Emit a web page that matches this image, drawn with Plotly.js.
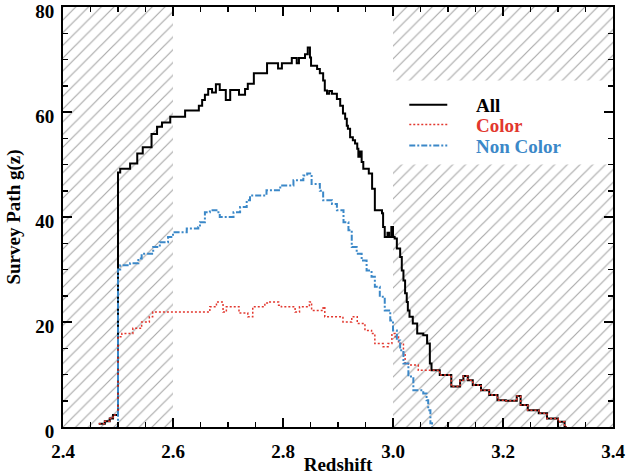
<!DOCTYPE html>
<html>
<head>
<meta charset="utf-8">
<script src="https://cdn.plot.ly/plotly-3.0.1.min.js"></script>
<style>html,body{margin:0;padding:0;background:#fff;}#chart{width:626px;height:475px;}</style>
</head>
<body>
<div id="chart"></div>
<script>
// ---- data ----
const allX = [2.465, 2.476, 2.485, 2.491, 2.500, 2.504, 2.522, 2.535, 2.545, 2.561, 2.571, 2.580, 2.595, 2.622, 2.647, 2.653, 2.658, 2.664, 2.671, 2.678, 2.685, 2.696, 2.704, 2.720, 2.731, 2.736, 2.747, 2.771, 2.791, 2.798, 2.816, 2.825, 2.829, 2.840, 2.845, 2.849, 2.851, 2.862, 2.867, 2.873, 2.876, 2.880, 2.884, 2.889, 2.898, 2.904, 2.909, 2.913, 2.916, 2.918, 2.922, 2.927, 2.931, 2.935, 2.937, 2.940, 2.943, 2.946, 2.956, 2.962, 2.967, 2.980, 2.982, 2.985, 2.990, 2.993, 2.997, 3.000, 3.003, 3.007, 3.013, 3.016, 3.019, 3.022, 3.025, 3.027, 3.030, 3.036, 3.044, 3.055, 3.062, 3.067, 3.070, 3.085, 3.106, 3.122, 3.128, 3.136, 3.145, 3.160, 3.175, 3.190, 3.205, 3.225, 3.232, 3.245, 3.265, 3.280, 3.300, 3.312, 3.316];
const allY = [0.6, 1.1, 1.6, 2.3, 48.5, 49.2, 50.2, 52.1, 53.3, 55.8, 57.2, 58.0, 59.1, 60.3, 61.2, 62.3, 63.3, 64.4, 63.7, 65.3, 64.2, 62.3, 64.2, 63.3, 64.4, 65.4, 67.4, 69.3, 68.3, 69.3, 70.3, 69.3, 70.3, 71.0, 72.3, 70.4, 68.8, 68.2, 67.4, 66.0, 64.1, 63.5, 64.0, 63.5, 62.5, 61.2, 59.7, 58.7, 57.4, 56.8, 55.2, 54.6, 54.0, 53.0, 51.5, 52.5, 50.5, 49.2, 48.3, 45.4, 41.3, 40.7, 38.1, 36.2, 37.0, 36.2, 38.1, 36.2, 35.9, 34.0, 32.4, 29.8, 27.9, 25.5, 23.8, 22.2, 21.0, 19.7, 17.8, 17.5, 15.9, 12.1, 10.8, 9.9, 7.7, 8.9, 9.7, 8.9, 8.0, 7.0, 6.1, 5.1, 5.0, 5.9, 4.2, 3.2, 2.6, 1.6, 1.0, 0.0, 0.0];

const colorX = [2.465, 2.476, 2.485, 2.491, 2.500, 2.507, 2.527, 2.543, 2.557, 2.563, 2.667, 2.679, 2.691, 2.697, 2.720, 2.736, 2.745, 2.767, 2.776, 2.792, 2.797, 2.822, 2.830, 2.848, 2.852, 2.873, 2.876, 2.909, 2.925, 2.935, 2.949, 2.961, 2.967, 2.982, 2.991, 2.998, 3.004, 3.010, 3.019, 3.022, 3.028, 3.046, 3.085, 3.106, 3.122, 3.128, 3.136, 3.145, 3.160, 3.175, 3.190, 3.205, 3.225, 3.232, 3.245, 3.265, 3.280, 3.300, 3.312, 3.316];
const colorY = [0.6, 1.1, 1.6, 2.3, 17.2, 17.8, 18.8, 20.0, 21.0, 21.9, 22.9, 23.8, 21.9, 22.9, 21.7, 21.0, 22.9, 23.6, 23.8, 23.2, 22.9, 21.9, 22.9, 23.8, 22.2, 22.9, 21.0, 20.0, 21.0, 19.7, 18.4, 17.8, 15.9, 15.3, 15.9, 17.8, 17.2, 15.9, 14.0, 12.1, 11.8, 10.8, 9.9, 7.7, 8.9, 9.7, 8.9, 8.0, 7.0, 6.1, 5.1, 5.0, 5.9, 4.2, 3.2, 2.6, 1.6, 1.0, 0.0, 0.0];

const nonColorX = [2.497, 2.500, 2.504, 2.522, 2.537, 2.543, 2.564, 2.576, 2.591, 2.600, 2.625, 2.646, 2.649, 2.658, 2.667, 2.679, 2.685, 2.710, 2.722, 2.734, 2.740, 2.770, 2.795, 2.819, 2.837, 2.844, 2.852, 2.867, 2.873, 2.889, 2.898, 2.910, 2.919, 2.925, 2.934, 2.943, 2.952, 2.961, 2.967, 2.976, 2.985, 2.995, 3.000, 3.007, 3.013, 3.019, 3.028, 3.037, 3.055, 3.061, 3.064, 3.068, 3.071];
const nonColorY = [0.0, 30.0, 30.8, 31.2, 32.1, 33.0, 34.3, 35.2, 36.2, 37.1, 37.8, 38.1, 39.0, 40.9, 41.3, 40.9, 40.0, 40.9, 41.9, 43.2, 44.1, 45.1, 46.0, 47.0, 47.9, 48.3, 46.3, 45.0, 43.2, 42.5, 41.3, 39.0, 37.5, 34.3, 33.0, 31.7, 29.8, 28.6, 26.7, 24.8, 22.2, 20.3, 18.4, 16.5, 14.6, 12.1, 9.6, 7.0, 6.4, 5.1, 3.2, 0.7, 0.0];

// excluded (hatched) redshift ranges and the legend gap in the right one
const hatchLeftX = [2.4, 2.6];
const hatchRightX = [3.0, 3.4];
const legendGapY = [50, 66];
const yRange = [0, 80];
const xRange = [2.4, 3.4];
const xTicks = [2.4, 2.6, 2.8, 3.0, 3.2, 3.4];
const yTicks = [0, 20, 40, 60, 80];
const seriesNames = ['All', 'Color', 'Non Color'];

const serif = 'Liberation Serif, Times New Roman, serif';
const RED = '#e2372e';
const BLUE = '#3b88c8';

function rect(x, y) {
  return { x: [x[0], x[1], x[1], x[0], x[0]], y: [y[0], y[0], y[1], y[1], y[0]] };
}
function hatchTrace(r) {
  return {
    type: 'scatter', mode: 'lines', x: r.x, y: r.y, fill: 'toself',
    line: { width: 0, color: 'rgba(0,0,0,0)' },
    fillcolor: 'rgba(0,0,0,0)',
    fillpattern: { shape: '/', fgcolor: '#a9a9a9', bgcolor: 'rgba(255,255,255,0)', size: 9, solidity: 0.13 },
    hoverinfo: 'skip', showlegend: false
  };
}
const hL = rect(hatchLeftX, yRange);
const hR1 = rect(hatchRightX, [yRange[0], legendGapY[0]]);
const hR2 = rect(hatchRightX, [legendGapY[1], yRange[1]]);

const pad = '\u00a0\u00a0\u00a0\u00a0\u00a0';
const traces = [
  hatchTrace(hL), hatchTrace(hR1), hatchTrace(hR2),
  { type: 'scatter', mode: 'lines', x: allX, y: allY, line: { shape: 'hv', color: 'black', width: 2 },
    name: pad + seriesNames[0], legend: 'legend' },
  { type: 'scatter', mode: 'lines', x: colorX, y: colorY, line: { shape: 'hv', color: RED, width: 1.5, dash: '2px,2px' },
    name: pad + '<span style="color:' + RED + '">' + seriesNames[1] + '</span>', legend: 'legend2' },
  { type: 'scatter', mode: 'lines', x: nonColorX, y: nonColorY, line: { shape: 'hv', color: BLUE, width: 2, dash: '6px,2px,2px,2px' },
    name: pad + '<span style="color:' + BLUE + '">' + seriesNames[2] + '</span>', legend: 'legend3' }
];

const axisCommon = {
  showgrid: false, zeroline: false, showline: true, linecolor: 'black', linewidth: 2,
  mirror: 'allticks', ticks: 'inside', ticklen: 9, tickwidth: 1.5, tickcolor: 'black',
  ticklabeloverflow: 'allow',
  tickfont: { family: serif, size: 19, weight: 'bold', color: 'black' }
};
function legendAt(y) {
  return {
    x: 0.6205, y: y, xanchor: 'left', yanchor: 'top',
    bgcolor: 'rgba(255,255,255,0)', borderwidth: 0,
    font: { family: serif, size: 19, weight: 'bold', color: 'black' },
    itemwidth: 38
  };
}

const layout = {
  width: 626, height: 475,
  margin: { l: 63, r: 13, t: 7, b: 48, pad: 0 },
  paper_bgcolor: 'white', plot_bgcolor: 'white',
  showlegend: true,
  legend: legendAt(0.812),
  legend2: legendAt(0.765),
  legend3: legendAt(0.715),
  xaxis: Object.assign({}, axisCommon, {
    range: xRange, tickvals: xTicks, ticktext: xTicks.map(v => v.toFixed(1)),
    minor: { dtick: 0.05, tick0: 2.4, ticks: 'inside', ticklen: 5, tickwidth: 1.5, tickcolor: 'black', showgrid: false },
    ticklabelstandoff: 6,
    title: { text: 'Redshift', font: { family: serif, size: 19, weight: 'bold', color: 'black' }, standoff: 4 },
    automargin: false
  }),
  yaxis: Object.assign({}, axisCommon, {
    range: yRange, tickvals: yTicks,
    minor: { dtick: 5, tick0: 0, ticks: 'inside', ticklen: 5, tickwidth: 1.5, tickcolor: 'black', showgrid: false },
    ticklabelstandoff: 3,
    ticklabelshift: 4,
    title: { text: 'Survey Path g(z)', font: { family: serif, size: 19, weight: 'bold', color: 'black' }, standoff: 10 },
    automargin: false
  })
};

Plotly.newPlot('chart', traces, layout, { displayModeBar: false, staticPlot: true });
</script>
</body>
</html>
